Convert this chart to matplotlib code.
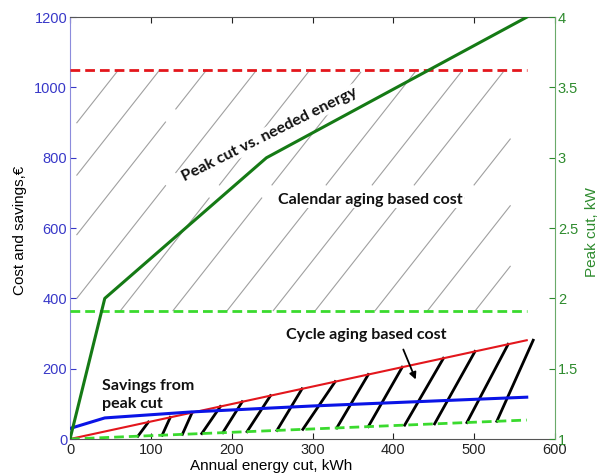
import numpy as np
import matplotlib
matplotlib.use("Agg")
import matplotlib.pyplot as plt

# values
peak_x = [0, 43, 243, 565]            # annual energy cut, kWh
peak_kw = [1.0, 2.0, 3.0, 4.0]        # peak cut, kW (right axis)

sav_x = [0, 43, 150, 300, 565]
sav_y = [30, 60, 77, 94, 119]         # savings from peak cut

cyc_x = [0, 565]
cyc_y = [0, 281]                      # cycle aging based cost (upper edge)

low_x = [0, 565]
low_y = [0, 54]                       # lower green dashed

cal_x = [0, 565]
cal_level = 1050                      # calendar aging cost (red dashed)
mid_level = 364                       # upper green dashed

# black hatch strokes: start on the lower dashed line, end on the red line
hatch_bot = [84, 114, 139, 163, 189, 219, 256, 288, 330, 369, 414, 451, 491, 528]
hatch_top = [97, 124, 151, 186, 213, 248, 287, 328, 369, 411, 462, 501, 542, 573]

# grey hatch strokes: x where each one meets the green dashed level
grey_x0 = [-175, -124, -66, -4, 62, 127, 194, 251, 303, 377, 442, 501]
grey_slope = 2.92
grey_xlim = (8, 545)

xticks = [0, 100, 200, 300, 400, 500, 600]
yticks_left = [0, 200, 400, 600, 800, 1000, 1200]
yticks_right = [1, 1.5, 2, 2.5, 3, 3.5, 4]

plt.rcParams['font.family'] = ['Liberation Sans', 'DejaVu Sans']

blue_txt = "#3838c8"
green_txt = "#2e8b2e"

fig = plt.figure(figsize=(6.01, 4.74), dpi=100)
ax = fig.add_axes([0.1165, 0.0738, 0.807, 0.890])

# grey hatching in the calendar-cost band
for x0 in grey_x0:
    xa = max(x0, grey_xlim[0])
    xb = min(x0 + (cal_level - mid_level) / grey_slope, grey_xlim[1])
    if xb <= xa:
        continue
    ya = mid_level + (xa - x0) * grey_slope
    yb = mid_level + (xb - x0) * grey_slope
    ln, = ax.plot([xa, xb], [ya, yb], color="#a0a0a0", lw=0.8, zorder=1)
    ln.set_dashes([130, 14])

ax.plot(cal_x, [cal_level] * 2, color="#e3161c", lw=2, ls="--", dashes=(3.5, 1.8), zorder=3)
ax.plot(cal_x, [mid_level] * 2, color="#3ada2e", lw=2, ls="--", dashes=(3.5, 1.8), zorder=3)

# black hatching for cycle cost
hb_y = np.interp(hatch_bot, low_x, low_y)
ht_y = np.interp(hatch_top, cyc_x, cyc_y)
for xb, yb, xt, yt in zip(hatch_bot, hb_y, hatch_top, ht_y):
    ax.plot([xb, xt], [yb, yt], color="black", lw=2, zorder=2)

ax.plot(cyc_x, cyc_y, color="#e3161c", lw=1.5, zorder=3)
ax.plot(sav_x, sav_y, color="#0a14e6", lw=2.2, zorder=4)
ax.plot(low_x, low_y, color="#3ada2e", lw=2, ls="--", dashes=(3.5, 1.8), zorder=3)

ax.set_xlim(0, 600)
ax.set_ylim(0, 1200)
ax.set_xticks(xticks)
ax.set_yticks(yticks_left)
ax.tick_params(axis='x', direction='in', top=True, length=4, labelsize=10.5, colors="#222222", pad=3)
ax.tick_params(axis='y', direction='in', length=4, labelsize=10.5, colors=blue_txt, pad=2)
ax.spines['left'].set_color("#8c8cdc")
ax.spines['top'].set_color("#555555")
ax.spines['bottom'].set_color("#555555")
ax.spines['right'].set_visible(False)

ax.set_xlabel("Annual energy cut, kWh", fontsize=11)
ax.xaxis.set_label_coords(0.414, -0.047)
ax.set_ylabel("Cost and savings,€", fontsize=11)
ax.yaxis.set_label_coords(-0.089, 0.495)

ax2 = ax.twinx()
ax2.set_position(ax.get_position())
ax2.plot(peak_x, peak_kw, color="#157a15", lw=2.2, zorder=5)
ax2.set_ylim(1, 4)
ax2.set_yticks(yticks_right)
ax2.set_yticklabels(["1", "1.5", "2", "2.5", "3", "3.5", "4"])
ax2.tick_params(axis='y', direction='in', length=4, labelsize=10.5, colors=green_txt, pad=2)
for s in ['left', 'top', 'bottom']:
    ax2.spines[s].set_visible(False)
ax2.spines['right'].set_color("#6aaa6a")
ax2.set_ylabel("Peak cut, kW", fontsize=11, color=green_txt)
ax2.yaxis.set_label_coords(1.062, 0.49)

bold = dict(family=['Lato', 'DejaVu Sans'], fontweight='bold', fontsize=11.5, color="#111111")
box = dict(facecolor='white', edgecolor='none', pad=1.0)
ax.text(247, 867, "Peak cut vs. needed energy", rotation=26.5, ha='center', va='center',
        bbox=box, zorder=6, rotation_mode='anchor', **bold)
ax.text(371, 680, "Calendar aging based cost", ha='center', va='center', bbox=box, zorder=6, **bold)
ax.text(366, 296, "Cycle aging based cost", ha='center', va='center', zorder=6, **bold)
ax.text(40, 125, "Savings from\npeak cut", ha='left', va='center', zorder=6, linespacing=1.3, **bold)
ax.annotate("", xy=(429, 162), xytext=(411, 262),
            arrowprops=dict(arrowstyle='-|>', color='black', lw=1.3, mutation_scale=10), zorder=6)

fig.savefig("out.png", dpi=100)
